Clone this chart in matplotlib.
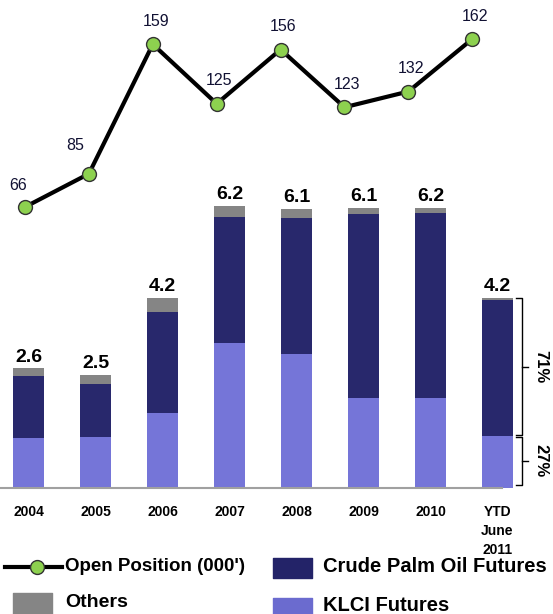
# open position line over stacked volume bars

import matplotlib
matplotlib.use('Agg')
import matplotlib.pyplot as plt
import numpy as np

plt.rcParams['font.family'] = ['Liberation Sans', 'DejaVu Sans']

years = ['2004', '2005', '2006', '2007', '2008', '2009', '2010', 'YTD\nJune\n2011']
open_pos = [66, 85, 159, 125, 156, 123, 132, 162]
klci = [1.09, 1.11, 1.63, 3.15, 2.91, 1.96, 1.96, 1.13]
cpo = [1.34, 1.15, 2.20, 2.74, 2.96, 4.00, 4.02, 2.96]
others = [0.17, 0.20, 0.30, 0.24, 0.20, 0.13, 0.11, 0.04]
totals = ['2.6', '2.5', '4.2', '6.2', '6.1', '6.1', '6.2', '4.2']
ytd_split = ['71%', '27%']

c_klci = '#7575d8'
c_cpo = '#28286c'
c_oth = '#858585'
c_green = '#8dd14f'

W, H = 553, 614
fig = plt.figure(figsize=(W / 100, H / 100), dpi=100)


def px_axes(left, top, right, bottom):
    return fig.add_axes([left / W, 1 - bottom / H, (right - left) / W, (bottom - top) / H])


# bars
ax = px_axes(0, 170, W, 488)
x = np.arange(len(years))
b1 = np.array(klci)
b2 = b1 + np.array(cpo)
b3 = b2 + np.array(others)
bw = 0.47
ax.bar(x, klci, bw, color=c_klci)
ax.bar(x, cpo, bw, bottom=b1, color=c_cpo)
ax.bar(x, others, bw, bottom=b2, color=c_oth)
for i in range(len(x)):
    ax.text(x[i], b3[i] + 0.06, totals[i], ha='center', va='bottom',
            fontsize=14, fontweight='bold')
ax.set_xlim(-28.5 / 67, (W - 28.5) / 67)
ax.set_ylim(0, 318 / 46)
ax.axhline(0, xmin=0, xmax=502 / W, color='#a0a0a0', lw=1.5, clip_on=False)
for s in ax.spines.values():
    s.set_visible(False)
ax.set_yticks([])
ax.set_xticks(x)
ax.set_xticklabels(years, fontsize=10, fontweight='bold', linespacing=1.45)
ax.tick_params(axis='x', length=0, pad=12)

# bracket next to the YTD bar
k = len(x) - 1
bx = k + 0.37
lo, mid, hi = 0.06, b1[k], b2[k] + others[k]
ax.plot([bx - 0.1, bx, bx, bx - 0.1], [hi, hi, mid + 0.03, mid + 0.03], color='k', lw=1, clip_on=False)
ax.plot([bx - 0.1, bx, bx, bx - 0.1], [mid - 0.03, mid - 0.03, lo, lo], color='k', lw=1, clip_on=False)
ax.plot([bx, bx + 0.09], [(hi + mid) / 2] * 2, color='k', lw=1, clip_on=False)
ax.plot([bx, bx + 0.09], [(mid + lo) / 2] * 2, color='k', lw=1, clip_on=False)
ax.text(bx + 0.28, (hi + mid) / 2, ytd_split[0], rotation=-90, ha='center', va='center',
        fontsize=12, fontweight='bold', clip_on=False)
ax.text(bx + 0.28, (mid + lo) / 2, ytd_split[1], rotation=-90, ha='center', va='center',
        fontsize=12, fontweight='bold', clip_on=False)

# line
ax2 = px_axes(0, 0, W, 322.5)
ax2.patch.set_alpha(0)
ax2.plot(x, open_pos, color='k', lw=3, marker='o', ms=10,
         mfc=c_green, mec='#333333', mew=1, zorder=3)
nudge = {0: (-5, 10), 1: (-10, 15)}
for i in range(len(x)):
    dx, dy = nudge.get(i, (2, 11))
    ax2.annotate(str(open_pos[i]), (x[i], open_pos[i]), xytext=(dx, dy),
                 textcoords='offset points', ha='center', va='bottom', fontsize=11.5,
                 color='#111133')
ax2.set_xlim(-25 / 63.9, (W - 25) / 63.9)
ax2.set_ylim(0, 322.5 / 1.75)
ax2.axis('off')

# legend
lg = px_axes(0, 540, W, H)
lg.set_xlim(0, W)
lg.set_ylim(H, 540)
lg.axis('off')
lg.plot([5, 62], [567, 567], color='k', lw=3)
lg.plot([37], [567], marker='o', ms=10, mfc=c_green, mec='#333333', mew=1)
lg.text(65, 567, "Open Position (000')", va='center', fontsize=13.5, fontweight='bold')
lg.fill_between([13, 52], 593, 616, color=c_oth)
lg.text(65, 603, 'Others', va='center', fontsize=14, fontweight='bold')
lg.fill_between([273, 312], 558, 578, color='#232368')
lg.text(323, 567, 'Crude Palm Oil Futures', va='center', fontsize=14.5, fontweight='bold')
lg.fill_between([273, 312], 598, 616, color='#6b6bcf')
lg.text(323, 606, 'KLCI Futures', va='center', fontsize=14.5, fontweight='bold')

fig.savefig('out.png', dpi=100)
